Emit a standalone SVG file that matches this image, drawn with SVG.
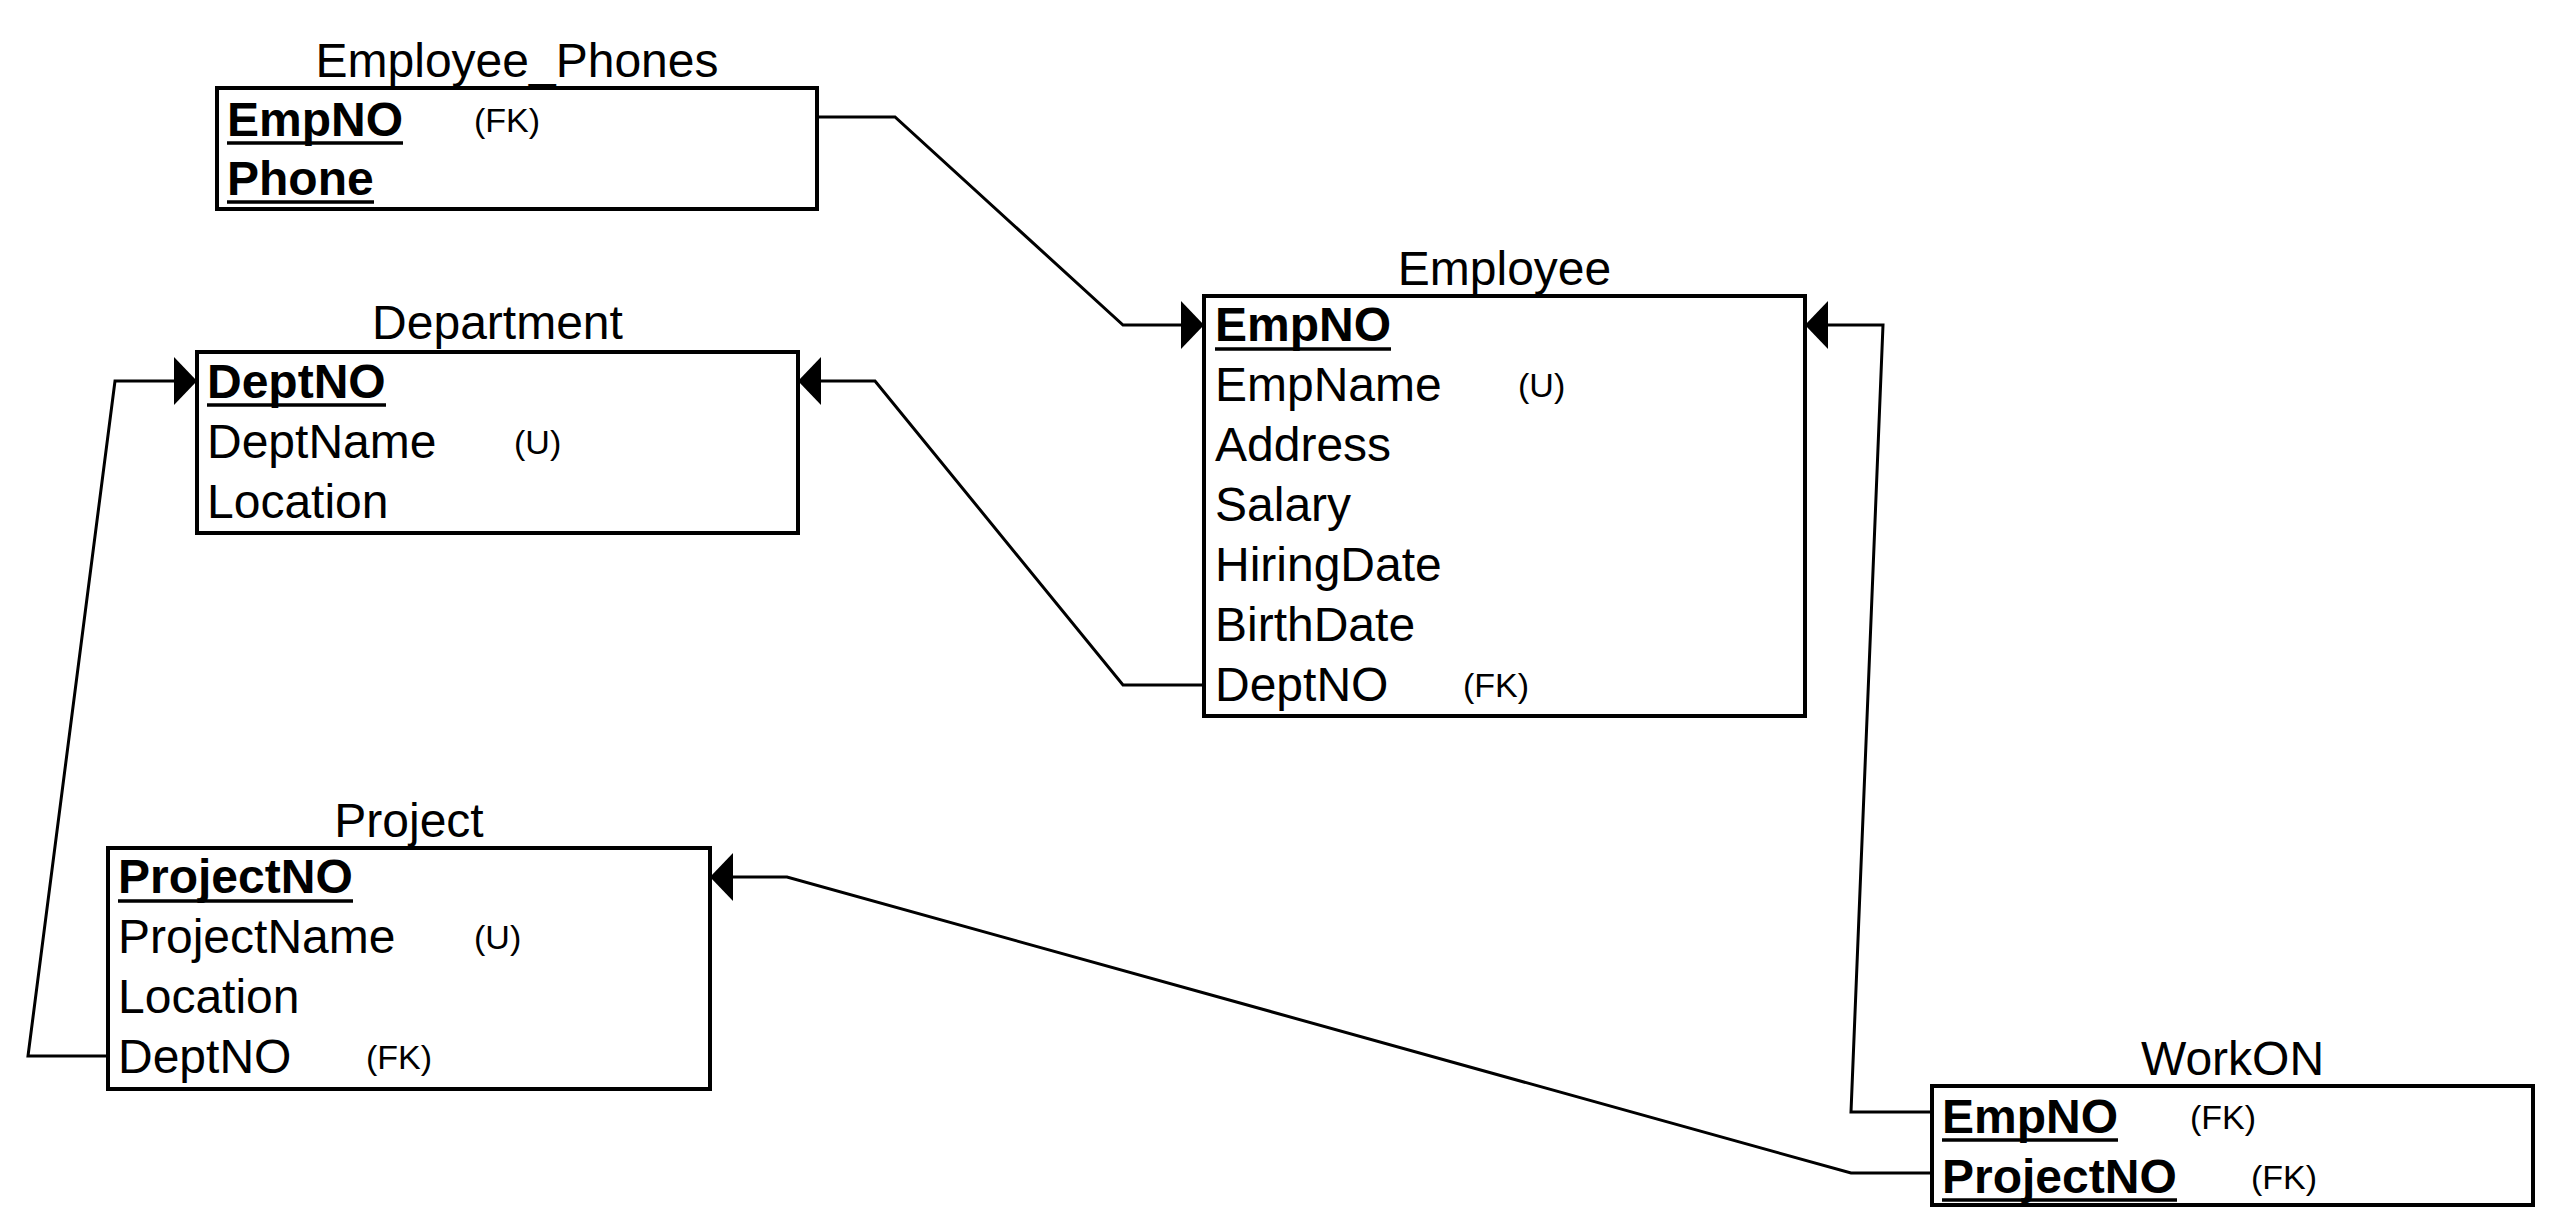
<svg xmlns="http://www.w3.org/2000/svg" width="2560" height="1232" viewBox="0 0 2560 1232">
<style>
text{font-family:"Liberation Sans",Arial,sans-serif;fill:#000}
.t{font-size:48px;text-anchor:middle}
.a{font-size:48px}
.k{font-size:48px;font-weight:bold}
.s{font-size:34px}
.box{fill:#fff;stroke:#000;stroke-width:4}
.ul{stroke:#000;stroke-width:3.5}
.c{fill:none;stroke:#000;stroke-width:3;stroke-linejoin:miter}
</style>
<defs>
<marker id="ah" markerUnits="userSpaceOnUse" markerWidth="24" markerHeight="48" viewBox="0 0 24 48" refX="23" refY="24" orient="auto">
<path d="M0,0 L23,24 L0,48 Z" fill="#000"/>
</marker>
</defs>
<rect width="2560" height="1232" fill="#fff"/>
<g id="connectors">
<polyline class="c" points="817,117 895,117 1123,325 1204,325" marker-end="url(#ah)"/>
<polyline class="c" points="1204,685 1123,685 875,381 798,381" marker-end="url(#ah)"/>
<polyline class="c" points="108,1056 28,1056 115,381 197,381" marker-end="url(#ah)"/>
<polyline class="c" points="1932,1112 1851,1112 1883,325 1805,325" marker-end="url(#ah)"/>
<polyline class="c" points="1932,1173 1851,1173 787,877 710,877" marker-end="url(#ah)"/>
</g>
<g id="employee_phones">
<text class="t" x="517" y="77">Employee_Phones</text>
<rect class="box" x="217" y="88" width="600" height="121"/>
<text class="k" x="227" y="136">EmpNO</text>
<line class="ul" x1="227" y1="143" x2="403" y2="143"/>
<text class="s" x="474" y="132">(FK)</text>
<text class="k" x="227" y="195">Phone</text>
<line class="ul" x1="227" y1="202" x2="374" y2="202"/>
</g>
<g id="department">
<text class="t" x="497.5" y="339">Department</text>
<rect class="box" x="197" y="352" width="601" height="181"/>
<text class="k" x="207" y="398">DeptNO</text>
<line class="ul" x1="207" y1="405" x2="386" y2="405"/>
<text class="a" x="207" y="458">DeptName</text>
<text class="s" x="514" y="454">(U)</text>
<text class="a" x="207" y="518">Location</text>
</g>
<g id="employee">
<text class="t" x="1504.5" y="285">Employee</text>
<rect class="box" x="1204" y="296" width="601" height="420"/>
<text class="k" x="1215" y="341">EmpNO</text>
<line class="ul" x1="1215" y1="349" x2="1391" y2="349"/>
<text class="a" x="1215" y="401">EmpName</text>
<text class="s" x="1518" y="397">(U)</text>
<text class="a" x="1215" y="461">Address</text>
<text class="a" x="1215" y="521">Salary</text>
<text class="a" x="1215" y="581">HiringDate</text>
<text class="a" x="1215" y="641">BirthDate</text>
<text class="a" x="1215" y="701">DeptNO</text>
<text class="s" x="1463" y="697">(FK)</text>
</g>
<g id="project">
<text class="t" x="409" y="837">Project</text>
<rect class="box" x="108" y="848" width="602" height="241"/>
<text class="k" x="118" y="893">ProjectNO</text>
<line class="ul" x1="118" y1="901" x2="353" y2="901"/>
<text class="a" x="118" y="953">ProjectName</text>
<text class="s" x="474" y="949">(U)</text>
<text class="a" x="118" y="1013">Location</text>
<text class="a" x="118" y="1073">DeptNO</text>
<text class="s" x="366" y="1069">(FK)</text>
</g>
<g id="workon">
<text class="t" x="2232.5" y="1075">WorkON</text>
<rect class="box" x="1932" y="1086" width="601" height="119"/>
<text class="k" x="1942" y="1133">EmpNO</text>
<line class="ul" x1="1942" y1="1140" x2="2118" y2="1140"/>
<text class="s" x="2190" y="1129">(FK)</text>
<text class="k" x="1942" y="1193">ProjectNO</text>
<line class="ul" x1="1942" y1="1200" x2="2177" y2="1200"/>
<text class="s" x="2251" y="1189">(FK)</text>
</g>
</svg>
